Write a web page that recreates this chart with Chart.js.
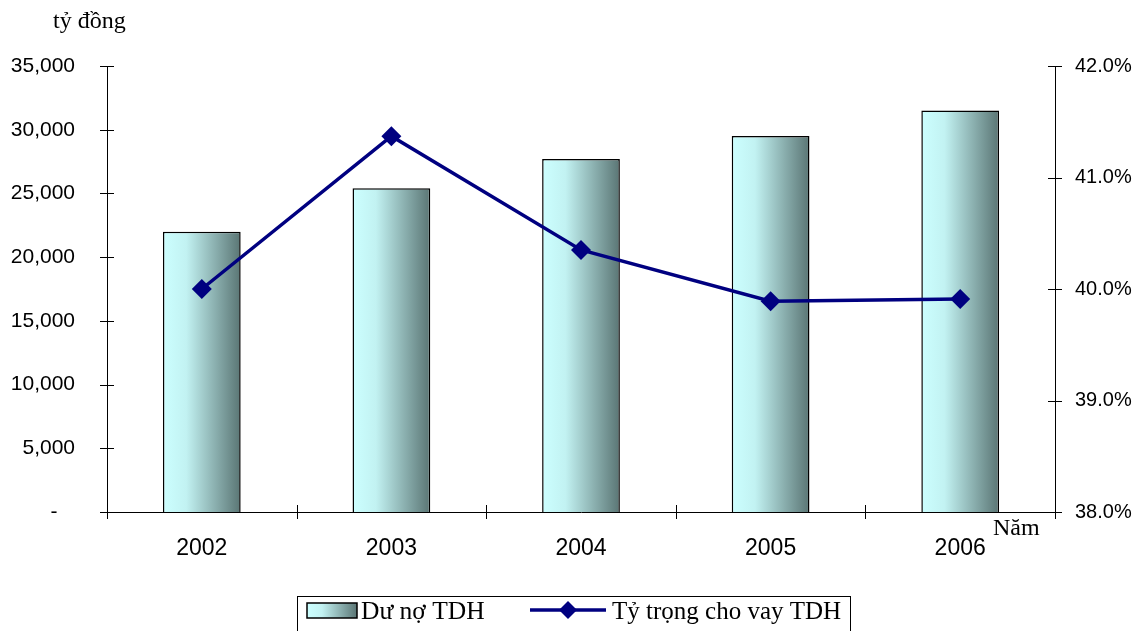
<!DOCTYPE html>
<html>
<head>
<meta charset="utf-8">
<script src="https://cdn.jsdelivr.net/npm/chart.js@4"></script>
<style>
  html, body { margin: 0; padding: 0; background: #fff; }
  #wrap { width: 1138px; height: 631px; position: relative; }
</style>
</head>
<body>
<div id="wrap"><canvas id="chart"></canvas></div>
<script>
// data
const years = ['2002', '2003', '2004', '2005', '2006'];
const duNoTDH = [22000, 25400, 27700, 29500, 31500];      // tỷ đồng
const tyTrongTDH = [40.0, 41.37, 40.35, 39.89, 39.91];    // %

const SERIF = '"Liberation Serif", "DejaVu Serif", serif';
const SANS = '"Liberation Sans", Arial, sans-serif';
const NAVY = '#000080';

function barGradient(c, x0, x1) {
	const g = c.createLinearGradient(x0, 0, x1, 0);
	g.addColorStop(0, '#ccffff');
	g.addColorStop(0.3, '#c2f2f2');
	g.addColorStop(1, '#5a7574');
	return g;
}

// crossing tick marks + axis captions + boxed legend
const extras = {
	id: 'extras',
	afterDraw(chart) {
		const c = chart.ctx;
		const a = chart.chartArea;
		const sy = chart.scales.y, sy1 = chart.scales.y1;
		c.save();
		c.strokeStyle = '#000';
		c.lineWidth = 1;
		c.beginPath();
		sy.ticks.forEach(t => {
			const y = Math.round(sy.getPixelForValue(t.value)) + 0.5;
			c.moveTo(a.left - 7, y); c.lineTo(a.left + 7, y);
		});
		sy1.ticks.forEach(t => {
			const y = Math.round(sy1.getPixelForValue(t.value)) + 0.5;
			c.moveTo(a.right - 7, y); c.lineTo(a.right + 7, y);
		});
		const step = (a.right - a.left) / years.length;
		for (let i = 0; i <= years.length; i++) {
			const x = Math.round(a.left + i * step) + 0.5;
			c.moveTo(x, a.bottom - 7); c.lineTo(x, a.bottom + 7);
		}
		c.stroke();

		c.fillStyle = '#000';
		c.textBaseline = 'alphabetic';
		c.font = '24px ' + SERIF;
		c.textAlign = 'left';
		c.fillText('tỷ đồng', 53, 28);
		c.fillText('Năm', 993, 535);

		// legend
		c.strokeStyle = '#000';
		c.strokeRect(297.5, 596.5, 553, 60);
		c.fillStyle = barGradient(c, 307, 357);
		c.fillRect(307, 603, 50, 15);
		c.lineWidth = 1.5;
		c.strokeRect(307, 603, 50, 15);
		c.fillStyle = '#000';
		c.font = '25.5px ' + SERIF;
		c.fillText('Dư nợ TDH', 361, 619);
		c.strokeStyle = NAVY;
		c.lineWidth = 3.5;
		c.beginPath();
		c.moveTo(530, 610); c.lineTo(606, 610);
		c.stroke();
		c.fillStyle = NAVY;
		c.beginPath();
		c.moveTo(568, 601); c.lineTo(577, 610); c.lineTo(568, 619); c.lineTo(559, 610);
		c.closePath();
		c.fill();
		c.fillStyle = '#000';
		c.font = '25px ' + SERIF;
		c.fillText('Tỷ trọng cho vay TDH', 612, 619);
		c.restore();
	}
};

new Chart(document.getElementById('chart'), {
	data: {
		labels: years,
		datasets: [{
			type: 'line',
			label: 'Tỷ trọng cho vay TDH',
			data: tyTrongTDH,
			yAxisID: 'y1',
			borderColor: NAVY,
			backgroundColor: NAVY,
			borderWidth: 3.5,
			pointStyle: 'rectRot',
			pointRadius: 10,
			pointHoverRadius: 10,
			pointBorderWidth: 0,
			tension: 0
		}, {
			type: 'bar',
			label: 'Dư nợ TDH',
			data: duNoTDH,
			yAxisID: 'y',
			backgroundColor: function(context){
				const chart = context.chart;
				const sx = chart.scales.x;
				if (!sx || !chart.chartArea) return '#9cc';
				const x = sx.getPixelForValue(context.dataIndex);
				const w = (chart.chartArea.right - chart.chartArea.left) / years.length * 0.41;
				return barGradient(chart.ctx, x - w / 2, x + w / 2);
			},
			borderColor: '#000',
			borderWidth: 1.5,
			borderSkipped: 'bottom',
			categoryPercentage: 1,
			barPercentage: 0.41
		}]
	},
	options: {
		responsive: true,
		maintainAspectRatio: false,
		animation: false,
		layout: { padding: { top: 66, left: 0, right: 0, bottom: 0 } },
		plugins: {
			legend: { display: false },
			tooltip: { enabled: false }
		},
		scales: {
			x: {
				offset: true,
				grid: { display: false, drawTicks: false },
				border: { display: true, color: '#000', width: 1 },
				ticks: { color: '#000', font: { family: SANS, size: 23 }, padding: 23, maxRotation: 0 },
				afterFit(scale) { scale.height = 119; }
			},
			y: {
				position: 'left',
				min: 0,
				max: 35000,
				grid: { display: false, drawTicks: false },
				border: { display: true, color: '#000', width: 1 },
				ticks: {
					stepSize: 5000,
					color: '#000',
					padding: 32,
					font: { family: SANS, size: 21 },
					callback: v => v === 0 ? '-   ' : v.toLocaleString('en-US')
				},
				afterFit(scale) { scale.width = 107; }
			},
			y1: {
				position: 'right',
				min: 38,
				max: 42,
				grid: { display: false, drawTicks: false },
				border: { display: true, color: '#000', width: 1 },
				ticks: {
					stepSize: 1,
					color: '#000',
					padding: 20,
					font: { family: SANS, size: 20 },
					callback: v => v.toFixed(1) + '%'
				},
				afterFit(scale) { scale.width = 83; }
			}
		}
	},
	plugins: [extras]
});
</script>
</body>
</html>
